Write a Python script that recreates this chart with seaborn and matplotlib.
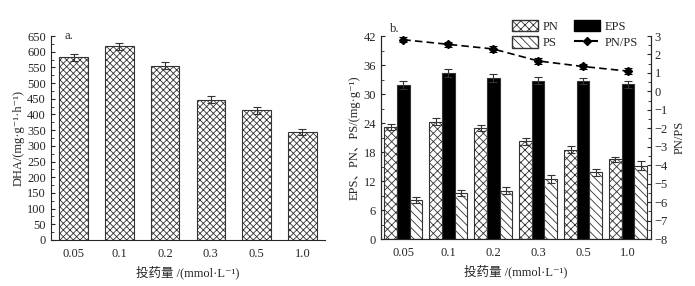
import matplotlib
matplotlib.use("Agg")
import matplotlib.pyplot as plt
import matplotlib.ticker as mticker
from matplotlib.patches import Patch
from matplotlib.lines import Line2D
import seaborn as sns
import pandas as pd

doses = ["0.05", "0.1", "0.2", "0.3", "0.5", "1.0"]

dha = [582, 617, 555, 447, 413, 343]
dha_err = [12, 11, 11, 11, 10, 10]

pn = [23.2, 24.3, 23.0, 20.2, 18.5, 16.5]
pn_err = [0.7, 0.8, 0.6, 0.8, 0.7, 0.5]
eps = [31.8, 34.3, 33.3, 32.8, 32.7, 32.0]
eps_err = [0.8, 0.8, 0.8, 0.8, 0.6, 0.8]
ps = [8.1, 9.6, 10.0, 12.4, 13.8, 15.2]
ps_err = [0.6, 0.6, 0.7, 0.8, 0.8, 0.9]
ratio = [2.8, 2.55, 2.3, 1.65, 1.35, 1.1]
ratio_err = [0.15, 0.15, 0.15, 0.15, 0.15, 0.15]

sns.set_style("ticks")
plt.rcParams["font.family"] = ["Liberation Serif", "Noto Sans CJK SC", "DejaVu Sans"]
plt.rcParams["font.size"] = 9
plt.rcParams["hatch.linewidth"] = 0.6
plt.rcParams["axes.linewidth"] = 0.8
plt.rcParams["axes.unicode_minus"] = True

fig = plt.figure(figsize=(6.95, 2.86), dpi=100)
ax1 = fig.add_axes([0.073, 0.161, 0.395, 0.713])
ax2 = fig.add_axes([0.548, 0.164, 0.388, 0.710])

xlabel = "投药量 /(mmol·L⁻¹)"

# panel a
df_a = pd.DataFrame({"dose": doses, "DHA": dha})
sns.barplot(data=df_a, x="dose", y="DHA", color="white", edgecolor="#333333",
            linewidth=0.8, width=0.62, ax=ax1, errorbar=None)
for p in ax1.patches:
    p.set_hatch("xxxxx")
xs = [p.get_x() + p.get_width() / 2 for p in ax1.patches]
ax1.errorbar(xs, dha, yerr=dha_err, fmt="none", ecolor="#333333",
             elinewidth=0.8, capsize=3, capthick=0.8)
ax1.set_ylim(0, 650)
ax1.set_xlim(-0.5, 5.5)
ax1.yaxis.set_major_locator(mticker.MultipleLocator(50))
ax1.yaxis.set_minor_locator(mticker.MultipleLocator(25))
ax1.tick_params(axis="y", which="both", direction="in", length=3)
ax1.tick_params(axis="y", which="minor", length=2)
ax1.tick_params(axis="x", length=0, pad=6)
ax1.set_ylabel("DHA/(mg·g⁻¹·h⁻¹)", labelpad=2)
ax1.set_xlabel(xlabel, labelpad=4)
sns.despine(ax=ax1)
ax1.text(-0.2, 650, "a.", ha="left", va="center")

# panel b
df_b = pd.DataFrame({
    "dose": doses * 3,
    "value": pn + eps + ps,
    "kind": ["PN"] * 6 + ["EPS"] * 6 + ["PS"] * 6,
})
sns.barplot(data=df_b, x="dose", y="value", hue="kind",
            palette={"PN": "white", "EPS": "black", "PS": "white"},
            edgecolor="#333333", linewidth=0.8, width=0.84, ax=ax2,
            errorbar=None, legend=False)
hatches = {"PN": "xxxx", "EPS": "", "PS": "\\\\\\\\"}
errs = {"PN": pn_err, "EPS": eps_err, "PS": ps_err}
vals = {"PN": pn, "EPS": eps, "PS": ps}
for cont, kind in zip(ax2.containers, ["PN", "EPS", "PS"]):
    for p in cont:
        p.set_hatch(hatches[kind])
    cx = [p.get_x() + p.get_width() / 2 for p in cont]
    ax2.errorbar(cx, vals[kind], yerr=errs[kind], fmt="none",
                 ecolor="#333333", elinewidth=0.8, capsize=3, capthick=0.8)
ax2.set_ylim(0, 42)
ax2.set_xlim(-0.5, 5.5)
ax2.yaxis.set_major_locator(mticker.MultipleLocator(6))
ax2.yaxis.set_minor_locator(mticker.MultipleLocator(3))
ax2.tick_params(axis="y", which="both", direction="in", length=3)
ax2.tick_params(axis="y", which="minor", length=2)
ax2.tick_params(axis="x", length=0, pad=6)
ax2.set_ylabel("EPS、PN、PS/(mg·g⁻¹)", labelpad=2)
ax2.set_xlabel(xlabel, labelpad=4)
ax2.spines["top"].set_visible(False)
ax2.text(-0.3, 42.3, "b.", ha="left", va="bottom")

ax3 = ax2.twinx()
ax3.errorbar(range(len(doses)), ratio, yerr=ratio_err, fmt="D--", color="black",
             markersize=4.5, linewidth=1.2, elinewidth=0.8, capsize=3,
             capthick=0.8, dashes=(4.5, 2.5))
ax3.set_ylim(-8, 3)
ax3.yaxis.set_major_locator(mticker.MultipleLocator(1))
ax3.yaxis.set_minor_locator(mticker.MultipleLocator(0.5))
ax3.tick_params(axis="y", which="both", direction="in", length=3, pad=3)
ax3.tick_params(axis="y", which="minor", length=2)
ax3.set_ylabel("PN/PS", labelpad=4)
ax3.spines["top"].set_visible(False)
ax3.set_xlim(-0.5, 5.5)

handles = [
    Patch(facecolor="white", edgecolor="#333333", hatch="xxxx", label="PN"),
    Patch(facecolor="white", edgecolor="#333333", hatch="\\\\\\\\", label="PS"),
    Patch(facecolor="black", edgecolor="black", label="EPS"),
    Line2D([0], [0], color="black", linestyle="--", marker="D", markersize=4.5,
           dashes=(4.5, 2.5), label="PN/PS"),
]
fig.legend(handles=handles, ncol=2, loc="upper left",
           bbox_to_anchor=(0.72, 0.97), frameon=False, handlelength=2.1,
           handleheight=1.0, columnspacing=1.2, labelspacing=0.3,
           handletextpad=0.4)

fig.savefig("out.png", dpi=100)
